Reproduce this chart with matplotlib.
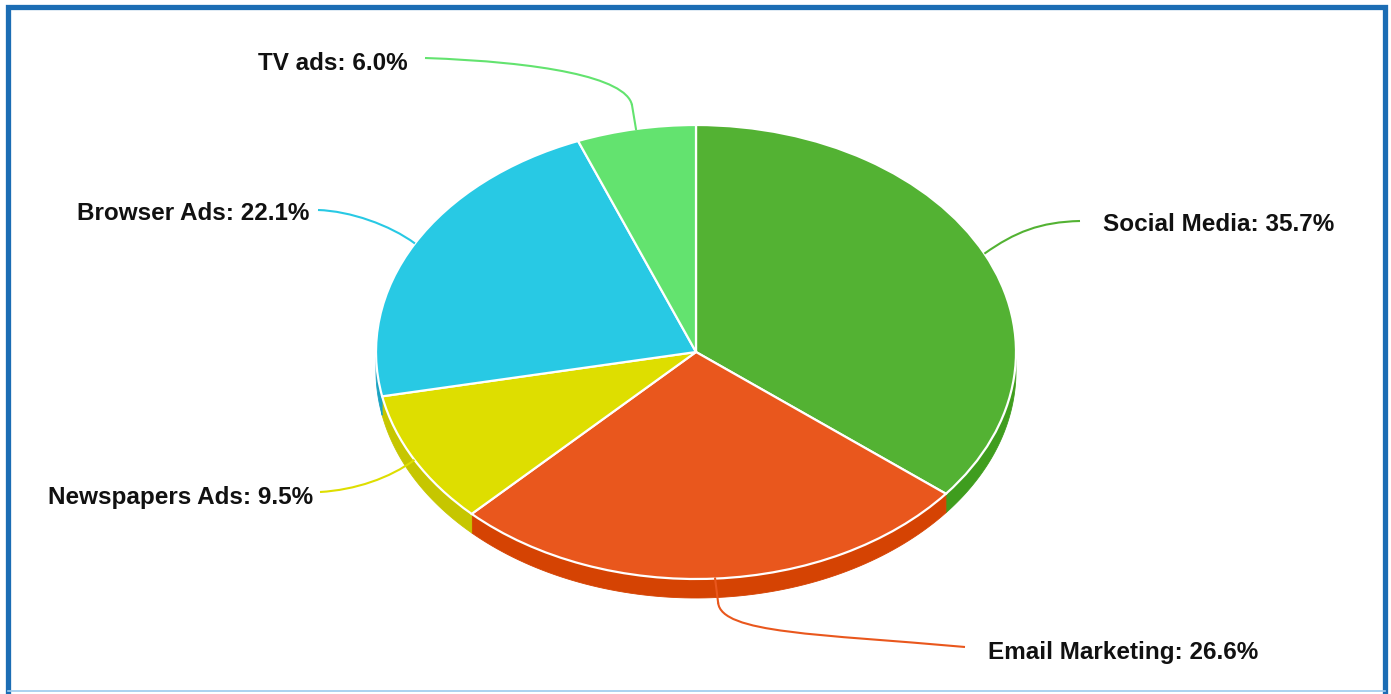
import numpy as np
import matplotlib
matplotlib.use("Agg")
import matplotlib.pyplot as plt
from matplotlib.patches import Wedge, Polygon, PathPatch
from matplotlib.path import Path
from matplotlib.transforms import Affine2D
from matplotlib.lines import Line2D

# ---- data ----
categories = ["Social Media", "Email Marketing", "Newspapers Ads", "Browser Ads", "TV ads"]
shares = [35.7, 26.6, 9.5, 22.1, 6.0]
top_colors = ["#53b233", "#e9571d", "#dede00", "#28c9e4", "#63e36f"]
side_colors = ["#3f9d1e", "#d54303", "#c6c600", "#1ba3c2", "#4fc95c"]

# ---- layout (pixels) ----
W, H = 1391, 694
CX, CY = 696, 352          # centre of the top face
RX, RY = 320, 227          # radii of the tilted top face
DEPTH = 19                 # visible thickness of the disc

fig = plt.figure(figsize=(W / 100, H / 100), dpi=100)
ax = fig.add_axes([0, 0, 1, 1])
ax.set_xlim(0, W)
ax.set_ylim(H, 0)
ax.axis("off")

# unit-circle coordinates -> tilted ellipse on the page
pie_tf = Affine2D().scale(RX, -RY).translate(CX, CY) + ax.transData
d = DEPTH / RY

total = sum(shares)
fracs = np.array(shares) / total
ends = 90 - 360 * np.cumsum(fracs)
starts = np.concatenate([[90], ends[:-1]])

# side walls (only the front half, angles between -180 and 0, are visible)
for t_start, t_end, col in zip(starts, ends, side_colors):
    lo, hi = max(t_end, -180), min(t_start, 0)
    if hi <= lo:
        continue
    t = np.radians(np.linspace(lo, hi, 80))
    top = np.column_stack([np.cos(t), np.sin(t)])
    bot = np.column_stack([np.cos(t[::-1]), np.sin(t[::-1]) - d])
    ax.add_patch(Polygon(np.vstack([top, bot]), closed=True, facecolor=col,
                         edgecolor=col, lw=0.6, transform=pie_tf, zorder=1))

# top face
for t_start, t_end, col in zip(starts, ends, top_colors):
    ax.add_patch(Wedge((0, 0), 1, t_end, t_start, facecolor=col,
                       edgecolor="white", lw=1.6, transform=pie_tf, zorder=2))

# ---- labels with curved connectors ----
label_text = [f"{c}: {v:.1f}%" for c, v in zip(categories, shares)]
label_pos = [(1103, 224, "left"), (988, 653, "left"), (313, 497, "right"),
             (309, 213, "right"), (408, 63, "right")]

mids = np.radians((starts + ends) / 2)
edge_pts = pie_tf.transform(np.column_stack([np.cos(mids), np.sin(mids)]))
edge_pts = ax.transData.inverted().transform(edge_pts)


def connector(p0, p3, c1, c2, color):
    path = Path([p0, c1, c2, p3], [Path.MOVETO, Path.CURVE4, Path.CURVE4, Path.CURVE4])
    ax.add_patch(PathPatch(path, facecolor="none", edgecolor=color, lw=1.5, zorder=3))


for (lx, ly, ha), txt in zip(label_pos, label_text):
    ax.text(lx, ly, txt, ha=ha, va="center", fontsize=17.5, fontweight="bold",
            family="Liberation Sans", color="#111111", zorder=5)

ex, ey = edge_pts[0]
connector((ex, ey), (1080, 221), (1015, 232), (1040, 222), top_colors[0])
ex, ey = edge_pts[1]
ax.add_line(Line2D([ex, ex + 3], [ey, ey + 24], color=top_colors[1], lw=1.5, zorder=3))
connector((ex + 3, ey + 24), (965, 647), (ex + 6, ey + 55), (820, 634), top_colors[1])
ex, ey = edge_pts[2]
connector((ex, ey), (320, 492), (390, 478), (355, 490), top_colors[2])
ex, ey = edge_pts[3]
connector((ex, ey), (318, 210), (390, 225), (350, 211), top_colors[3])
ex, ey = edge_pts[4]
ax.add_line(Line2D([ex, ex - 4], [ey, ey - 24], color=top_colors[4], lw=1.5, zorder=3))
connector((ex - 4, ey - 24), (425, 58), (ex - 10, ey - 52), (540, 62), top_colors[4])

# ---- frame ----
frame = "#1c6db4"
ax.add_line(Line2D([7.5, 7.5, 1385, 1385], [691, 6.5, 6.5, 691], color=frame, lw=3.8,
                   solid_joinstyle="miter", zorder=6))
ax.add_line(Line2D([7.5, 1385], [691, 691], color="#9ccbee", lw=1.2, zorder=6))

fig.savefig("out.png", dpi=100, facecolor="white")
